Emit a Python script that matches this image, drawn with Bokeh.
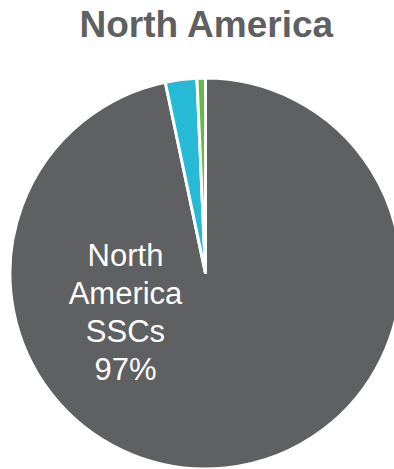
import numpy as np
from bokeh.plotting import figure
from bokeh.models import Range1d, ColumnDataSource
from bokeh.core.properties import value
from bokeh.embed import file_html
from bokeh.resources import INLINE

# Data
title_text = "North America"
categories = ["North America SSCs", "Other 1", "Other 2"]
shares = [96.7, 2.6, 0.7]
colors = ["#5f6062", "#27bad6", "#62bb46"]
label_text = "North\nAmerica\nSSCs\n97%"

W, H = 394, 469
p = figure(width=W, height=H, output_backend="svg", toolbar_location=None,
           x_range=Range1d(0, W), y_range=Range1d(0, H), min_border=0,
           outline_line_color=None)
p.axis.visible = False
p.grid.visible = False
p.background_fill_color = "white"
p.border_fill_color = "white"

vals = np.array(shares, dtype=float)
frac = vals / vals.sum()
cum = np.concatenate([[0.0], np.cumsum(frac)])
start = np.pi / 2 - 2 * np.pi * cum[:-1]
end = np.pi / 2 - 2 * np.pi * cum[1:]
src = ColumnDataSource(dict(cat=categories, start=start, end=end, color=colors))

cx, cy, r = 205, H - 273, 195.5
p.wedge(x=cx, y=cy, radius=r, start_angle="start", end_angle="end",
        direction="clock", fill_color="color", line_color="white",
        line_width=3, source=src)

p.text(x=[206.5], y=[H - 24], text=[title_text], text_align="center",
       text_baseline="alphabetic", text_font=value("Liberation Sans"),
       text_font_style="bold", text_font_size="37px", text_color="#5f6062")

p.text(x=[125], y=[H - 312], text=[label_text],
       text_align="center", text_baseline="alphabetic",
       text_font=value("Liberation Sans"), text_font_size="31px",
       text_color="white", text_line_height=1.085)

open("out.html", "w").write(file_html(p, INLINE))
